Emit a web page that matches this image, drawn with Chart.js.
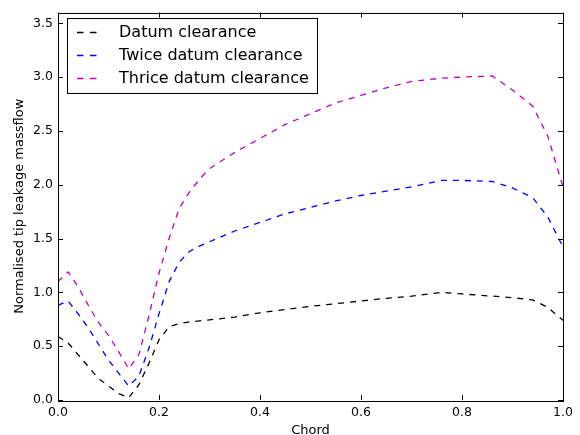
<!DOCTYPE html>
<html>
<head>
<meta charset="utf-8">
<script src="https://cdn.jsdelivr.net/npm/chart.js@4.4.0/dist/chart.umd.min.js"></script>
<style>
  html, body { margin: 0; padding: 0; background: #ffffff; }
  #wrap { width: 580px; height: 435px; }
</style>
</head>
<body>
<div id="wrap"><canvas id="chart" width="580" height="435"></canvas></div>
<script>
// chord positions (x) shared by the three curves
const chord = [0, 0.02, 0.04, 0.06, 0.08, 0.10, 0.12, 0.14, 0.16, 0.18, 0.20, 0.22, 0.24, 0.26, 0.28, 0.30,
  0.35, 0.40, 0.45, 0.50, 0.55, 0.60, 0.65, 0.70, 0.76, 0.80, 0.86, 0.90, 0.94, 0.97, 1.00];

const datum = [0.59, 0.53, 0.42, 0.31, 0.20, 0.13, 0.06, 0.02, 0.14, 0.34, 0.56, 0.68, 0.71, 0.725, 0.735, 0.745,
  0.77, 0.81, 0.84, 0.87, 0.895, 0.92, 0.945, 0.965, 1.00, 0.985, 0.965, 0.95, 0.93, 0.86, 0.74];

const twice = [0.88, 0.92, 0.80, 0.67, 0.52, 0.37, 0.25, 0.13, 0.22, 0.48, 0.80, 1.10, 1.28, 1.38, 1.43, 1.47,
  1.57, 1.65, 1.73, 1.79, 1.85, 1.90, 1.94, 1.98, 2.04, 2.04, 2.03, 1.97, 1.88, 1.70, 1.42];

const thrice = [1.10, 1.19, 1.05, 0.88, 0.72, 0.60, 0.45, 0.29, 0.42, 0.78, 1.18, 1.50, 1.78, 1.93, 2.05, 2.15,
  2.30, 2.43, 2.56, 2.66, 2.76, 2.83, 2.90, 2.96, 2.99, 3.00, 3.01, 2.88, 2.73, 2.45, 1.98];

const seriesNames = ["Datum clearance", "Twice datum clearance", "Thrice datum clearance"];
const seriesColors = ["#000000", "#0000ff", "#bf00bf"];
const xTicks = [0, 0.2, 0.4, 0.6, 0.8, 1.0];
const yTicks = [0, 0.5, 1.0, 1.5, 2.0, 2.5, 3.0, 3.5];

const FONT = "'DejaVu Sans', sans-serif";

function toPoints(ys) {
  return chord.map(function(x, i) { return { x: x, y: ys[i] }; });
}

// box round the plot plus inward ticks on all four sides
const frameTicks = {
  id: "frameTicks",
  afterDraw(chart) {
    const ctx = chart.ctx;
    const a = chart.chartArea;
    const xs = chart.scales.x;
    const ys = chart.scales.y;
    const len = 5;
    ctx.save();
    ctx.strokeStyle = "#000000";
    ctx.lineWidth = 1;
    ctx.setLineDash([]);
    ctx.strokeRect(Math.round(a.left) + 0.5, Math.round(a.top) + 0.5,
      Math.round(a.right - a.left), Math.round(a.bottom - a.top));
    ctx.beginPath();
    xTicks.forEach(function(v) {
      const px = Math.round(xs.getPixelForValue(v)) + 0.5;
      ctx.moveTo(px, a.bottom); ctx.lineTo(px, a.bottom - len);
      ctx.moveTo(px, a.top); ctx.lineTo(px, a.top + len);
    });
    yTicks.forEach(function(v) {
      const py = Math.round(ys.getPixelForValue(v)) + 0.5;
      ctx.moveTo(a.left, py); ctx.lineTo(a.left + len, py);
      ctx.moveTo(a.right, py); ctx.lineTo(a.right - len, py);
    });
    ctx.stroke();
    ctx.restore();
  }
};

// legend in the upper left corner, matplotlib style
const boxLegend = {
  id: "boxLegend",
  afterDraw(chart) {
    const ctx = chart.ctx;
    ctx.save();
    ctx.fillStyle = "#ffffff";
    ctx.fillRect(67, 18, 251, 76);
    ctx.strokeStyle = "#000000";
    ctx.lineWidth = 1;
    ctx.strokeRect(67.5, 18.5, 250, 75);
    ctx.font = "16px " + FONT;
    ctx.textBaseline = "middle";
    chart.data.datasets.forEach(function(ds, i) {
      const yy = 32.5 + i * 23;
      ctx.strokeStyle = ds.borderColor;
      ctx.lineWidth = 1.3;
      ctx.setLineDash([6.5, 6.5]);
      ctx.beginPath();
      ctx.moveTo(77, yy);
      ctx.lineTo(97.5, yy);
      ctx.stroke();
      ctx.setLineDash([]);
      ctx.fillStyle = "#000000";
      ctx.fillText(ds.label, 119, yy);
    });
    ctx.restore();
  }
};

const datasets = [datum, twice, thrice].map(function(ys, i) {
  return {
    label: seriesNames[i],
    data: toPoints(ys),
    borderColor: seriesColors[i],
    borderWidth: 1.3,
    borderDash: [6, 6],
    pointRadius: 0,
    fill: false,
    tension: 0
  };
});

new Chart(document.getElementById("chart"), {
  type: "line",
  data: { datasets: datasets },
  options: {
    responsive: false,
    animation: false,
    devicePixelRatio: 1,
    layout: { padding: { top: 12, right: 17, left: 0, bottom: 0 } },
    plugins: {
      legend: { display: false },
      tooltip: { enabled: false }
    },
    scales: {
      x: {
        type: "linear",
        min: 0,
        max: 1,
        grid: { display: false, drawTicks: false },
        border: { display: false },
        afterBuildTicks: function(scale) {
          scale.ticks = xTicks.map(function(v) { return { value: v }; });
        },
        afterFit: function(scale) { scale.height = 35; },
        ticks: {
          color: "#000000",
          padding: 5,
          maxRotation: 0,
          font: { family: FONT, size: 12.5 },
          callback: function(v) { return Number(v).toFixed(1); }
        },
        title: {
          display: true,
          text: "Chord",
          color: "#000000",
          padding: { top: 0, bottom: -3 },
          font: { family: FONT, size: 13 }
        }
      },
      y: {
        type: "linear",
        min: 0,
        max: 3.6,
        grid: { display: false, drawTicks: false },
        border: { display: false },
        afterBuildTicks: function(scale) {
          scale.ticks = yTicks.map(function(v) { return { value: v }; });
        },
        afterFit: function(scale) { scale.width = 58; },
        ticks: {
          color: "#000000",
          padding: 5,
          font: { family: FONT, size: 12.5 },
          callback: function(v) { return Number(v).toFixed(1); }
        },
        title: {
          display: true,
          text: "Normalised tip leakage massflow",
          color: "#000000",
          padding: { top: 12, bottom: 0 },
          font: { family: FONT, size: 13 }
        }
      }
    }
  },
  plugins: [frameTicks, boxLegend]
});
</script>
</body>
</html>
